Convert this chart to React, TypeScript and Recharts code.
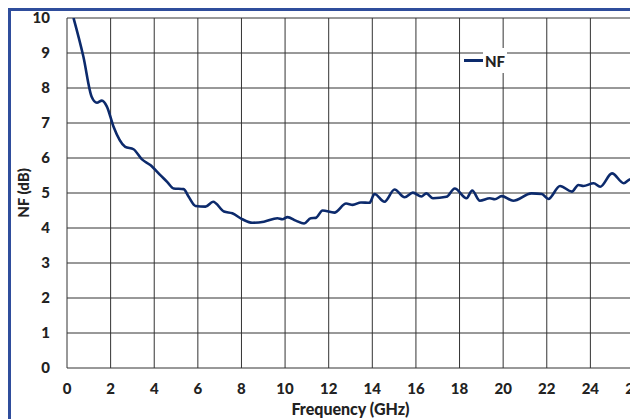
import React from 'react';
import { LineChart, Line, XAxis, YAxis, CartesianGrid, Legend, Label } from 'recharts';

const freqGHz = [0.3, 0.75, 1.13, 1.37, 1.6, 1.83, 2.13, 2.67, 3.05, 3.44, 3.82, 4.28, 4.59, 4.89, 5.35, 5.58, 5.89, 6.35, 6.7, 7.2, 7.58, 8.04, 8.5, 9.03, 9.65, 9.88, 10.11, 10.49, 10.87, 11.18, 11.41, 11.72, 12.26, 12.8, 13.1, 13.48, 13.87, 14.1, 14.56, 15.02, 15.48, 15.86, 16.25, 16.48, 16.78, 17.4, 17.78, 18.32, 18.58, 18.93, 19.39, 19.62, 19.93, 20.46, 21.3, 21.77, 22.07, 22.61, 23.15, 23.45, 23.68, 24.15, 24.45, 24.99, 25.53, 25.83, 26];
const nfDb = [10.0, 8.9, 7.75, 7.58, 7.64, 7.47, 6.9, 6.32, 6.25, 5.96, 5.8, 5.51, 5.32, 5.13, 5.11, 4.89, 4.63, 4.61, 4.75, 4.47, 4.42, 4.25, 4.15, 4.18, 4.28, 4.25, 4.31, 4.21, 4.13, 4.28, 4.29, 4.5, 4.44, 4.7, 4.66, 4.73, 4.72, 4.97, 4.75, 5.1, 4.88, 5.01, 4.9, 4.99, 4.85, 4.89, 5.13, 4.85, 5.07, 4.78, 4.85, 4.82, 4.91, 4.78, 4.99, 4.97, 4.83, 5.2, 5.04, 5.23, 5.2, 5.28, 5.18, 5.56, 5.28, 5.39, 5.39];
const xTicks = [0, 2, 4, 6, 8, 10, 12, 14, 16, 18, 20, 22, 24, 26];
const yTicks = [0, 1, 2, 3, 4, 5, 6, 7, 8, 9, 10];
const seriesName = 'NF';

const data = freqGHz.map((f, i) => ({ f, nf: nfDb[i] }));

const FONT = 'Lato, "Open Sans", sans-serif';
const TEXT = '#222';
const LINE = '#0c2a6c';
const FS = 15;
const TITLE_FS = 16;

const LegendContent = () => (
  <div style={{ display: 'flex', alignItems: 'center', height: 25 }}>
    <div style={{ width: 19, height: 3, background: LINE }} />
    <div
      style={{
        background: '#fff',
        height: 25,
        width: 24,
        display: 'flex',
        alignItems: 'center',
        justifyContent: 'center',
        fontFamily: FONT,
        fontWeight: 900,
        fontSize: FS,
        color: TEXT,
      }}
    >
      {seriesName}
    </div>
  </div>
);

const YLabel = (props: any) => {
  const vb = props.viewBox;
  const x = vb.x + 12;
  const y = vb.y + vb.height / 2;
  return (
    <text
      x={x}
      y={y}
      transform={`rotate(-90 ${x} ${y})`}
      textAnchor="middle"
      dominantBaseline="central"
      fontFamily={FONT}
      fontWeight={900}
      fontSize={FS}
      fill={TEXT}
    >
      NF (dB)
    </text>
  );
};

export default function App() {
  return (
    <div
      style={{
        width: 630,
        height: 411,
        boxSizing: 'border-box',
        borderLeft: '3px solid #2f4d9c',
        borderTop: '3px solid #2f4d9c',
        overflow: 'hidden',
        background: '#fff',
        position: 'relative',
      }}
    >
      <LineChart width={627} height={408} data={data} margin={{ top: 7, right: 4, left: 0, bottom: 0 }}>
        <CartesianGrid stroke="#333" strokeWidth={1} horizontalValues={yTicks} verticalValues={xTicks} />
        <XAxis
          dataKey="f"
          type="number"
          domain={[0, 26]}
          ticks={xTicks}
          interval={0}
          axisLine={false}
          tickLine={false}
          tickSize={0}
          tickMargin={15}
          height={51}
          tick={{ fontFamily: FONT, fontWeight: 900, fontSize: FS, fill: TEXT }}
        >
          <Label
            value="Frequency (GHz)"
            position="insideBottom"
            offset={4}
            style={{ fontFamily: FONT, fontWeight: 900, fontSize: TITLE_FS, fill: TEXT }}
          />
        </XAxis>
        <YAxis
          type="number"
          domain={[0, 10]}
          ticks={yTicks}
          interval={0}
          allowDataOverflow
          axisLine={false}
          tickLine={false}
          tickSize={0}
          tickMargin={17}
          width={56}
          tick={{ fontFamily: FONT, fontWeight: 900, fontSize: FS, fill: TEXT }}
        >
          <Label content={<YLabel />} />
        </YAxis>
        <Legend
          content={<LegendContent />}
          layout="horizontal"
          verticalAlign="middle"
          align="center"
          wrapperStyle={{ position: 'absolute', left: 453, top: 37, width: 50, height: 25 }}
        />
        <Line
          type="monotone"
          dataKey="nf"
          name={seriesName}
          stroke={LINE}
          strokeWidth={2.6}
          dot={false}
          isAnimationActive={false}
        />
      </LineChart>
    </div>
  );
}
